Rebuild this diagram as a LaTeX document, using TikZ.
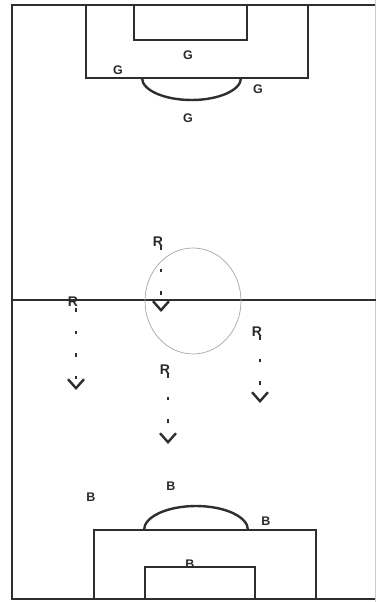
\documentclass[tikz,border=0pt]{standalone}
\usepackage{fontspec}
\setmainfont{Liberation Sans}
\usetikzlibrary{arrows.meta}
\definecolor{linec}{HTML}{2E2E2E}
\definecolor{textc}{HTML}{2A2A2A}
\tikzset{
  pitch/.style={draw=linec, line width=2.4pt},
  ccircle/.style={draw=black!35, line width=0.7pt},
  plab/.style={text=textc, font=\bfseries\fontsize{12.5}{12}\selectfont, inner sep=0pt},
  rlab/.style={text=textc, font=\bfseries\fontsize{14}{13}\selectfont, inner sep=0pt},
  runarrow/.style={draw=linec, line width=2.2pt, dash pattern=on 3.5pt off 19pt,
    -{Straight Barb[length=9pt,width=16pt,line width=2.4pt]}}
}
\begin{document}
\begin{tikzpicture}[x=1pt,y=-1pt]
\useasboundingbox (0,0) rectangle (376,602);
% outline
\draw[pitch] (376,5) -- (12,5) -- (12,600);
\draw[pitch] (12,599) -- (376,599);
\draw[draw=black!20, line width=0.6pt] (375.5,0) -- (375.5,602);
\draw[pitch] (12,300) -- (376,300);
\draw[ccircle] (193,301) ellipse[x radius=48pt, y radius=53pt];
% top penalty area
\draw[pitch] (86,5) rectangle (308,78);
\draw[pitch] (134,5) rectangle (247,40);
\draw[pitch] (142,78) arc[start angle=180, end angle=360, x radius=49.5pt, y radius=22pt];
% bottom penalty area
\draw[pitch] (94,599) -- (94,530) -- (316,530) -- (316,599);
\draw[pitch] (145,599) -- (145,567) -- (255,567) -- (255,599);
\draw[pitch] (144,530) arc[start angle=180, end angle=0, x radius=52pt, y radius=24pt];
% G labels
\node[plab] (g1) at (188,55) {G};
\node[plab] (g2) at (118,70) {G};
\node[plab] (g3) at (258,89) {G};
\node[plab] (g4) at (188,118) {G};
% B labels
\node[plab] (b1) at (91,497) {B};
\node[plab] (b2) at (171,486) {B};
\node[plab] (b3) at (266,521) {B};
\node[plab] (b4) at (190,564) {B};
% R labels and runs
\node[rlab] (r1) at (158,242) {R};
\node[rlab] (r2) at (73,302) {R};
\node[rlab] (r3) at (165,370) {R};
\node[rlab] (r4) at (257,332) {R};
\coordinate (t1) at (161,312);
\coordinate (t2) at (76,390);
\coordinate (t3) at (168,444);
\coordinate (t4) at (260,403);
\draw[runarrow] ([xshift=3pt,yshift=1pt]r1.south) -- (t1);
\draw[runarrow] ([xshift=3pt,yshift=-1pt]r2.south) -- (t2);
\draw[runarrow] ([xshift=3pt,yshift=1pt]r3.south) -- (t3);
\draw[runarrow] ([xshift=3pt,yshift=1pt]r4.south) -- (t4);
\end{tikzpicture}
\end{document}
